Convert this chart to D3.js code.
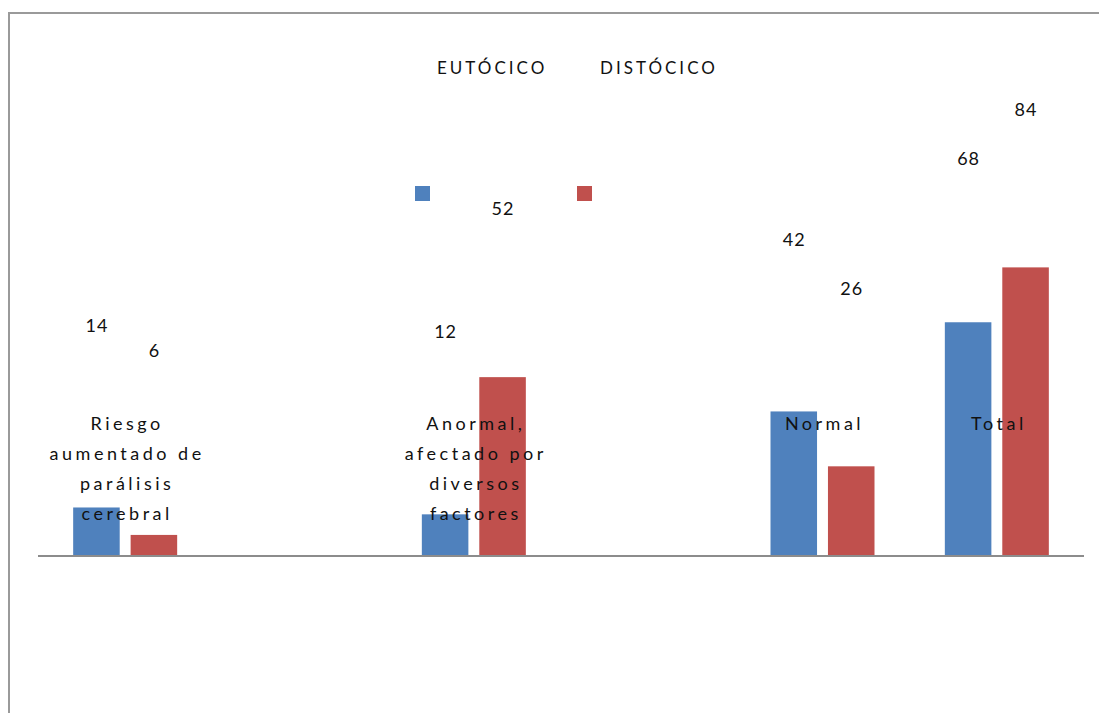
<!DOCTYPE html>
<html><head><meta charset="utf-8">
<script src="https://cdn.jsdelivr.net/npm/d3@7"></script>
<style>
html,body{margin:0;padding:0;background:#fff;overflow:hidden;}
text{font-family:Lato,"Open Sans",sans-serif;fill:#111;}
</style></head>
<body>
<svg id="chart" width="1099" height="713"></svg>
<script>
// Data
const categories = ["Riesgo aumentado de parálisis cerebral", "", "Anormal, afectado por diversos factores", " ", "Normal", "Total"];
const seriesNames = ["EUTÓCICO", "DISTÓCICO"];
const eutocico = [14, null, 12, null, 42, 68];
const distocico = [6, null, 52, null, 26, 84];
const colors = ["#4F81BD", "#C0504D"];

const svg = d3.select("#chart");

// chart border (extends beyond the visible area on right/bottom)
svg.append("rect").attr("x", 9).attr("y", 13).attr("width", 1200).attr("height", 900)
  .attr("fill", "none").attr("stroke", "#9a9a9a").attr("stroke-width", 2);

const x0 = d3.scaleBand().domain(categories).range([38, 1084]).padding(0);
const groupW = 104;
const x1 = d3.scaleBand().domain(seriesNames).range([0, groupW]).paddingInner(0.19);
const y = d3.scaleLinear().domain([0, 100]).range([555.5, 212.5]);
const yLabel = d3.scaleLinear().domain([0, 100]).range([368.5, 59.5]);

const series = [eutocico, distocico];
const rows = [];
series.forEach((vals, si) => vals.forEach((v, ci) => {
  if (v != null) rows.push({cat: categories[ci], s: seriesNames[si], si, v});
}));
const bx = d => x0(d.cat) + (x0.bandwidth() - groupW) / 2 + x1(d.s);

svg.append("g").selectAll("rect").data(rows).join("rect")
  .attr("x", d => bx(d))
  .attr("width", x1.bandwidth())
  .attr("y", d => y(d.v))
  .attr("height", d => y(0) - y(d.v))
  .attr("fill", d => colors[d.si]);

// axis line
svg.append("line").attr("x1", 38).attr("x2", 1084).attr("y1", 556).attr("y2", 556)
  .attr("stroke", "#8c8c8c").attr("stroke-width", 2);

// data labels
svg.append("g").selectAll("text").data(rows).join("text")
  .attr("x", d => bx(d) + x1.bandwidth() / 2 + 0.5)
  .attr("y", d => yLabel(d.v))
  .attr("text-anchor", "middle").attr("dominant-baseline", "central")
  .style("font-size", "18px").style("letter-spacing", "1px")
  .text(d => d.v);

// category labels (wrapped)
const catG = svg.append("g");
const catFont = "18px", catSpacing = "3.5px";
categories.forEach(c => {
  if (!c.trim()) return;
  const t = catG.append("text").attr("text-anchor", "middle")
    .style("font-size", catFont).style("letter-spacing", catSpacing);
  const words = c.split(" ");
  let lines = [], cur = [];
  const probe = svg.append("text").style("font-size", catFont).style("letter-spacing", catSpacing);
  words.forEach(w => {
    const test = cur.concat([w]).join(" ");
    probe.text(test);
    if (cur.length && probe.node().getComputedTextLength() > 170) { lines.push(cur.join(" ")); cur = [w]; }
    else cur.push(w);
  });
  lines.push(cur.join(" "));
  probe.remove();
  const cx = x0(c) + x0.bandwidth() / 2 + 2;
  lines.forEach((ln, i) => {
    t.append("tspan").attr("x", cx).attr("y", 423 + i * 30).attr("dominant-baseline", "central").text(ln);
  });
});

// legend
const legendText = [437, 600];
const legendMark = [415, 577];
seriesNames.forEach((n, i) => {
  svg.append("text").attr("x", legendText[i]).attr("y", 67).attr("dominant-baseline", "central")
    .style("font-size", "17px").style("letter-spacing", "3px").text(n);
  svg.append("rect").attr("x", legendMark[i]).attr("y", 186).attr("width", 15).attr("height", 15)
    .attr("fill", colors[i]);
});
</script>
</body></html>
